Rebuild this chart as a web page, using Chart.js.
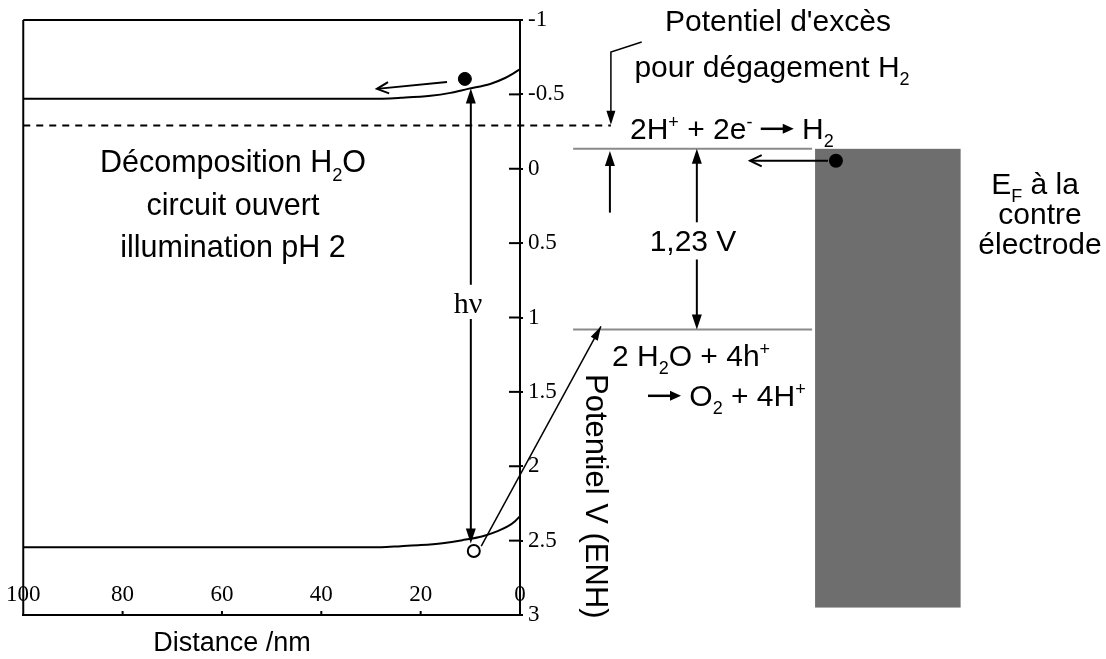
<!DOCTYPE html>
<html>
<head>
<meta charset="utf-8">
<script src="https://cdn.jsdelivr.net/npm/chart.js"></script>
<style>
  html, body { margin: 0; padding: 0; background: #fff; }
</style>
</head>
<body>
<canvas id="diagram" width="1106" height="659"></canvas>
<script>
// distance (nm) et potentiel (V / ENH) des bandes
const distCB = [100, 60, 30, 24, 18, 14, 10.5, 6, 3, 1.4, 0];
const potCB = [-0.47, -0.47, -0.47, -0.477, -0.49, -0.51, -0.537, -0.57, -0.61, -0.64, -0.67];
const distVB = [100, 60, 28, 24, 20, 15.6, 11.6, 7.5, 4.5, 2.4, 1, 0];
const potVB = [2.544, 2.544, 2.544, 2.537, 2.53, 2.517, 2.497, 2.47, 2.436, 2.403, 2.369, 2.336];
const xTicks = [100, 80, 60, 40, 20, 0];
const yTicks = [-1, -0.5, 0, 0.5, 1, 1.5, 2, 2.5, 3];

// niveaux redox et contre electrode (memes axes, distances negatives = hors du SC)
const overpotNm = [100, -18.3];
const overpotV = -0.29;
const redoxNm = [-10.7, -58.8];
const redoxV = [-0.134, 1.08];       // H+/H2, O2/H2O
const electrodeNm = [-59.4, -88.7];
const electrodeV = [-0.134, 2.95];

// points: electron, trou, electron de la contre electrode
const electronPt = [11.1, -0.604];
const holePt = [9.3, 2.57];
const counterPt = [-63.6, -0.054];

// fleches
const hvNm = 9.9;
const hvV = [-0.54, 0.78, 1.01, 2.52];
const gapNm = -35.6;
const gapV = [-0.134, 0.36, 0.61, 1.08];
const arrowsOpen = [
  { x: [14.7, 28.8], y: [-0.584, -0.537] },
  { x: [-62.0, -46.3], y: [-0.054, -0.054] }
];
const holeArrow = { x: [7.8, -16.3], y: [2.537, 1.06] };
const bracketNm = [-24.5, -18.3, -18.3];
const bracketV = [-0.852, -0.785, -0.295];
const lowArrowNm = [-18.1, -18.1];
const lowArrowV = [0.295, -0.12];

const SANS = '"Liberation Sans", Arial, sans-serif';
const SERIF = '"Liberation Serif", "Times New Roman", serif';

function headFilled(ctx, x1, y1, x2, y2, len, half) {
  const a = Math.atan2(y2 - y1, x2 - x1);
  ctx.beginPath();
  ctx.moveTo(x2, y2);
  ctx.lineTo(x2 - len * Math.cos(a) + half * Math.sin(a), y2 - len * Math.sin(a) - half * Math.cos(a));
  ctx.lineTo(x2 - len * Math.cos(a) - half * Math.sin(a), y2 - len * Math.sin(a) + half * Math.cos(a));
  ctx.closePath();
  ctx.fill();
}

function headOpen(ctx, x1, y1, x2, y2, len, ang) {
  const a = Math.atan2(y2 - y1, x2 - x1);
  ctx.beginPath();
  ctx.moveTo(x2 - len * Math.cos(a - ang), y2 - len * Math.sin(a - ang));
  ctx.lineTo(x2, y2);
  ctx.lineTo(x2 - len * Math.cos(a + ang), y2 - len * Math.sin(a + ang));
  ctx.stroke();
}

function seg(ctx, x1, y1, x2, y2) {
  ctx.beginPath();
  ctx.moveTo(x1, y1);
  ctx.lineTo(x2, y2);
  ctx.stroke();
}

// texte avec indices / exposants / fleche : [texte, '' | 'sub' | 'sup' | 'arrow']
function rich(ctx, parts, x, y, size, align) {
  const widthOf = p => {
    if (p[1] === 'arrow') return size * 1.1;
    ctx.font = (p[1] ? size * 0.6 : size) + 'px ' + SANS;
    return ctx.measureText(p[0]).width;
  };
  const w = parts.reduce((s, p) => s + widthOf(p), 0);
  let cx = align === 'center' ? x - w / 2 : x;
  ctx.textAlign = 'left';
  ctx.textBaseline = 'alphabetic';
  parts.forEach(p => {
    const pw = widthOf(p);
    if (p[1] === 'arrow') {
      const ay = y - size * 0.34;
      ctx.lineWidth = 2.5;
      seg(ctx, cx, ay, cx + pw - 8, ay);
      headFilled(ctx, cx, ay, cx + pw, ay, 11, 5);
    } else {
      ctx.font = (p[1] ? size * 0.6 : size) + 'px ' + SANS;
      const dy = p[1] === 'sub' ? size * 0.28 : p[1] === 'sup' ? -size * 0.36 : 0;
      ctx.fillText(p[0], cx, y + dy);
    }
    cx += pw;
  });
}

const diagramPlugin = {
  id: 'diagram',
  beforeDatasetsDraw(chart) {
    const { ctx, chartArea: a, scales: { x, y } } = chart;
    ctx.save();
    // contre electrode
    ctx.fillStyle = '#6e6e6e';
    const ex = x.getPixelForValue(electrodeNm[0]);
    const ey = y.getPixelForValue(electrodeV[0]);
    ctx.fillRect(ex, ey, x.getPixelForValue(electrodeNm[1]) - ex, y.getPixelForValue(electrodeV[1]) - ey);
    // cadre
    ctx.strokeStyle = '#000';
    ctx.lineWidth = 2;
    seg(ctx, a.left, a.top, a.right, a.top);
    seg(ctx, a.left, a.top, a.left, a.bottom);
    // petites graduations interieures
    yTicks.forEach(v => seg(ctx, a.right - 11, y.getPixelForValue(v), a.right, y.getPixelForValue(v)));
    xTicks.slice(1, -1).forEach(v => seg(ctx, x.getPixelForValue(v), a.bottom, x.getPixelForValue(v), a.bottom - 4));
    ctx.restore();
  },
  afterDatasetsDraw(chart) {
    const { ctx, scales: { x, y } } = chart;
    const X = v => x.getPixelForValue(v);
    const Y = v => y.getPixelForValue(v);
    ctx.save();
    ctx.strokeStyle = '#000';
    ctx.fillStyle = '#000';
    ctx.lineWidth = 2;

    // electron de la contre electrode
    ctx.beginPath();
    ctx.arc(X(counterPt[0]), Y(counterPt[1]), 7, 0, Math.PI * 2);
    ctx.fill();

    // h nu
    seg(ctx, X(hvNm), Y(hvV[1]), X(hvNm), Y(hvV[0]) + 12);
    headFilled(ctx, X(hvNm), Y(hvV[1]), X(hvNm), Y(hvV[0]), 15, 5);
    seg(ctx, X(hvNm), Y(hvV[2]), X(hvNm), Y(hvV[3]) - 12);
    headFilled(ctx, X(hvNm), Y(hvV[2]), X(hvNm), Y(hvV[3]), 15, 5);

    // 1,23 V
    seg(ctx, X(gapNm), Y(gapV[1]), X(gapNm), Y(gapV[0]) + 12);
    headFilled(ctx, X(gapNm), Y(gapV[1]), X(gapNm), Y(gapV[0]), 15, 5);
    seg(ctx, X(gapNm), Y(gapV[2]), X(gapNm), Y(gapV[3]) - 12);
    headFilled(ctx, X(gapNm), Y(gapV[2]), X(gapNm), Y(gapV[3]), 15, 5);

    // surtension
    ctx.lineWidth = 1.5;
    ctx.beginPath();
    ctx.moveTo(X(bracketNm[0]), Y(bracketV[0]));
    ctx.lineTo(X(bracketNm[1]), Y(bracketV[1]));
    ctx.lineTo(X(bracketNm[2]), Y(bracketV[2]) - 12);
    ctx.stroke();
    headFilled(ctx, X(bracketNm[1]), Y(bracketV[1]), X(bracketNm[2]), Y(bracketV[2]), 14, 4.5);
    ctx.lineWidth = 2;
    seg(ctx, X(lowArrowNm[0]), Y(lowArrowV[0]), X(lowArrowNm[1]), Y(lowArrowV[1]) + 12);
    headFilled(ctx, X(lowArrowNm[0]), Y(lowArrowV[0]), X(lowArrowNm[1]), Y(lowArrowV[1]), 15, 5);

    // fleches ouvertes
    arrowsOpen.forEach(r => {
      seg(ctx, X(r.x[0]), Y(r.y[0]), X(r.x[1]), Y(r.y[1]));
      headOpen(ctx, X(r.x[0]), Y(r.y[0]), X(r.x[1]), Y(r.y[1]), 13, 0.45);
    });
    ctx.lineWidth = 1.5;
    seg(ctx, X(holeArrow.x[0]), Y(holeArrow.y[0]), X(holeArrow.x[1]), Y(holeArrow.y[1]));
    headFilled(ctx, X(holeArrow.x[0]), Y(holeArrow.y[0]), X(holeArrow.x[1]), Y(holeArrow.y[1]), 14, 4);

    // textes
    rich(ctx, [['Décomposition H', ''], ['2', 'sub'], ['O', '']], 233, 172, 30.5, 'center');
    rich(ctx, [['circuit ouvert', '']], 233, 215, 30.5, 'center');
    rich(ctx, [['illumination pH 2', '']], 233, 257, 30.5, 'center');
    rich(ctx, [["Potentiel d'excès", '']], 778, 31, 30, 'center');
    rich(ctx, [['pour dégagement H', ''], ['2', 'sub']], 772, 77, 30, 'center');
    rich(ctx, [['2H', ''], ['+', 'sup'], [' + 2e', ''], ['-', 'sup'], [' ', ''], ['', 'arrow'], [' H', ''], ['2', 'sub']], 630, 139, 30, 'left');
    rich(ctx, [['E', ''], ['F', 'sub'], [' à la', '']], 1035, 194, 30, 'center');
    rich(ctx, [['contre', '']], 1040, 224, 30, 'center');
    rich(ctx, [['électrode', '']], 1040, 254, 30, 'center');
    rich(ctx, [['1,23 V', '']], 693, 251, 30, 'center');
    rich(ctx, [['2 H', ''], ['2', 'sub'], ['O + 4h', ''], ['+', 'sup']], 612, 366, 30, 'left');
    rich(ctx, [['', 'arrow'], [' O', ''], ['2', 'sub'], [' + 4H', ''], ['+', 'sup']], 648, 406, 30, 'left');
    rich(ctx, [['Distance /nm', '']], 232, 651, 27, 'center');

    ctx.font = '30px ' + SERIF;
    ctx.textAlign = 'center';
    ctx.fillText('h\u03bd', 468, 313);

    ctx.translate(586, 374);
    ctx.rotate(Math.PI / 2);
    rich(ctx, [['Potentiel V (ENH)', '']], 0, 0, 31, 'left');
    ctx.restore();
  }
};

const line = (xs, ys, extra) => Object.assign({
  data: xs.map((v, i) => ({ x: v, y: ys[i] })),
  showLine: true,
  borderColor: '#000',
  borderWidth: 2,
  pointRadius: 0,
  cubicInterpolationMode: 'monotone'
}, extra || {});

new Chart(document.getElementById('diagram'), {
  type: 'scatter',
  data: {
    datasets: [
      line(distCB, potCB),
      line(distVB, potVB),
      line(overpotNm, overpotNm.map(() => overpotV), { borderDash: [7, 6], clip: false }),
      line(redoxNm, redoxNm.map(() => redoxV[0]), { borderColor: '#8a8a8a', clip: false }),
      line(redoxNm, redoxNm.map(() => redoxV[1]), { borderColor: '#8a8a8a', clip: false }),
      {
        data: [{ x: electronPt[0], y: electronPt[1] }],
        pointRadius: 6.5, pointBackgroundColor: '#000', pointBorderColor: '#000'
      },
      {
        data: [{ x: holePt[0], y: holePt[1] }],
        pointRadius: 6, pointBackgroundColor: '#fff', pointBorderColor: '#000', pointBorderWidth: 2
      }
    ]
  },
  options: {
    responsive: false,
    animation: false,
    devicePixelRatio: 1,
    layout: { padding: { left: 23, top: 20, right: 526, bottom: 44 } },
    plugins: { legend: { display: false }, tooltip: { enabled: false } },
    scales: {
      x: {
        type: 'linear', min: 0, max: 100, reverse: true,
        afterFit: s => { s.height = 0; },
        afterBuildTicks: s => { s.ticks = xTicks.map(v => ({ value: v })); },
        ticks: { autoSkip: false, maxRotation: 0, mirror: true, padding: 6, color: '#000', font: { family: SERIF, size: 23 } },
        grid: { drawOnChartArea: false, drawTicks: false },
        border: { color: '#000', width: 2 }
      },
      y: {
        type: 'linear', position: 'right', min: -1, max: 3, reverse: true,
        afterFit: s => { s.width = 60; },
        afterBuildTicks: s => { s.ticks = yTicks.map(v => ({ value: v })); },
        ticks: { autoSkip: false, padding: 5, color: '#000', font: { family: SERIF, size: 23 }, callback: v => String(v) },
        grid: { drawOnChartArea: false, tickLength: 3, color: '#000', lineWidth: 2 },
        border: { color: '#000', width: 2 }
      }
    }
  },
  plugins: [diagramPlugin]
});
</script>
</body>
</html>
